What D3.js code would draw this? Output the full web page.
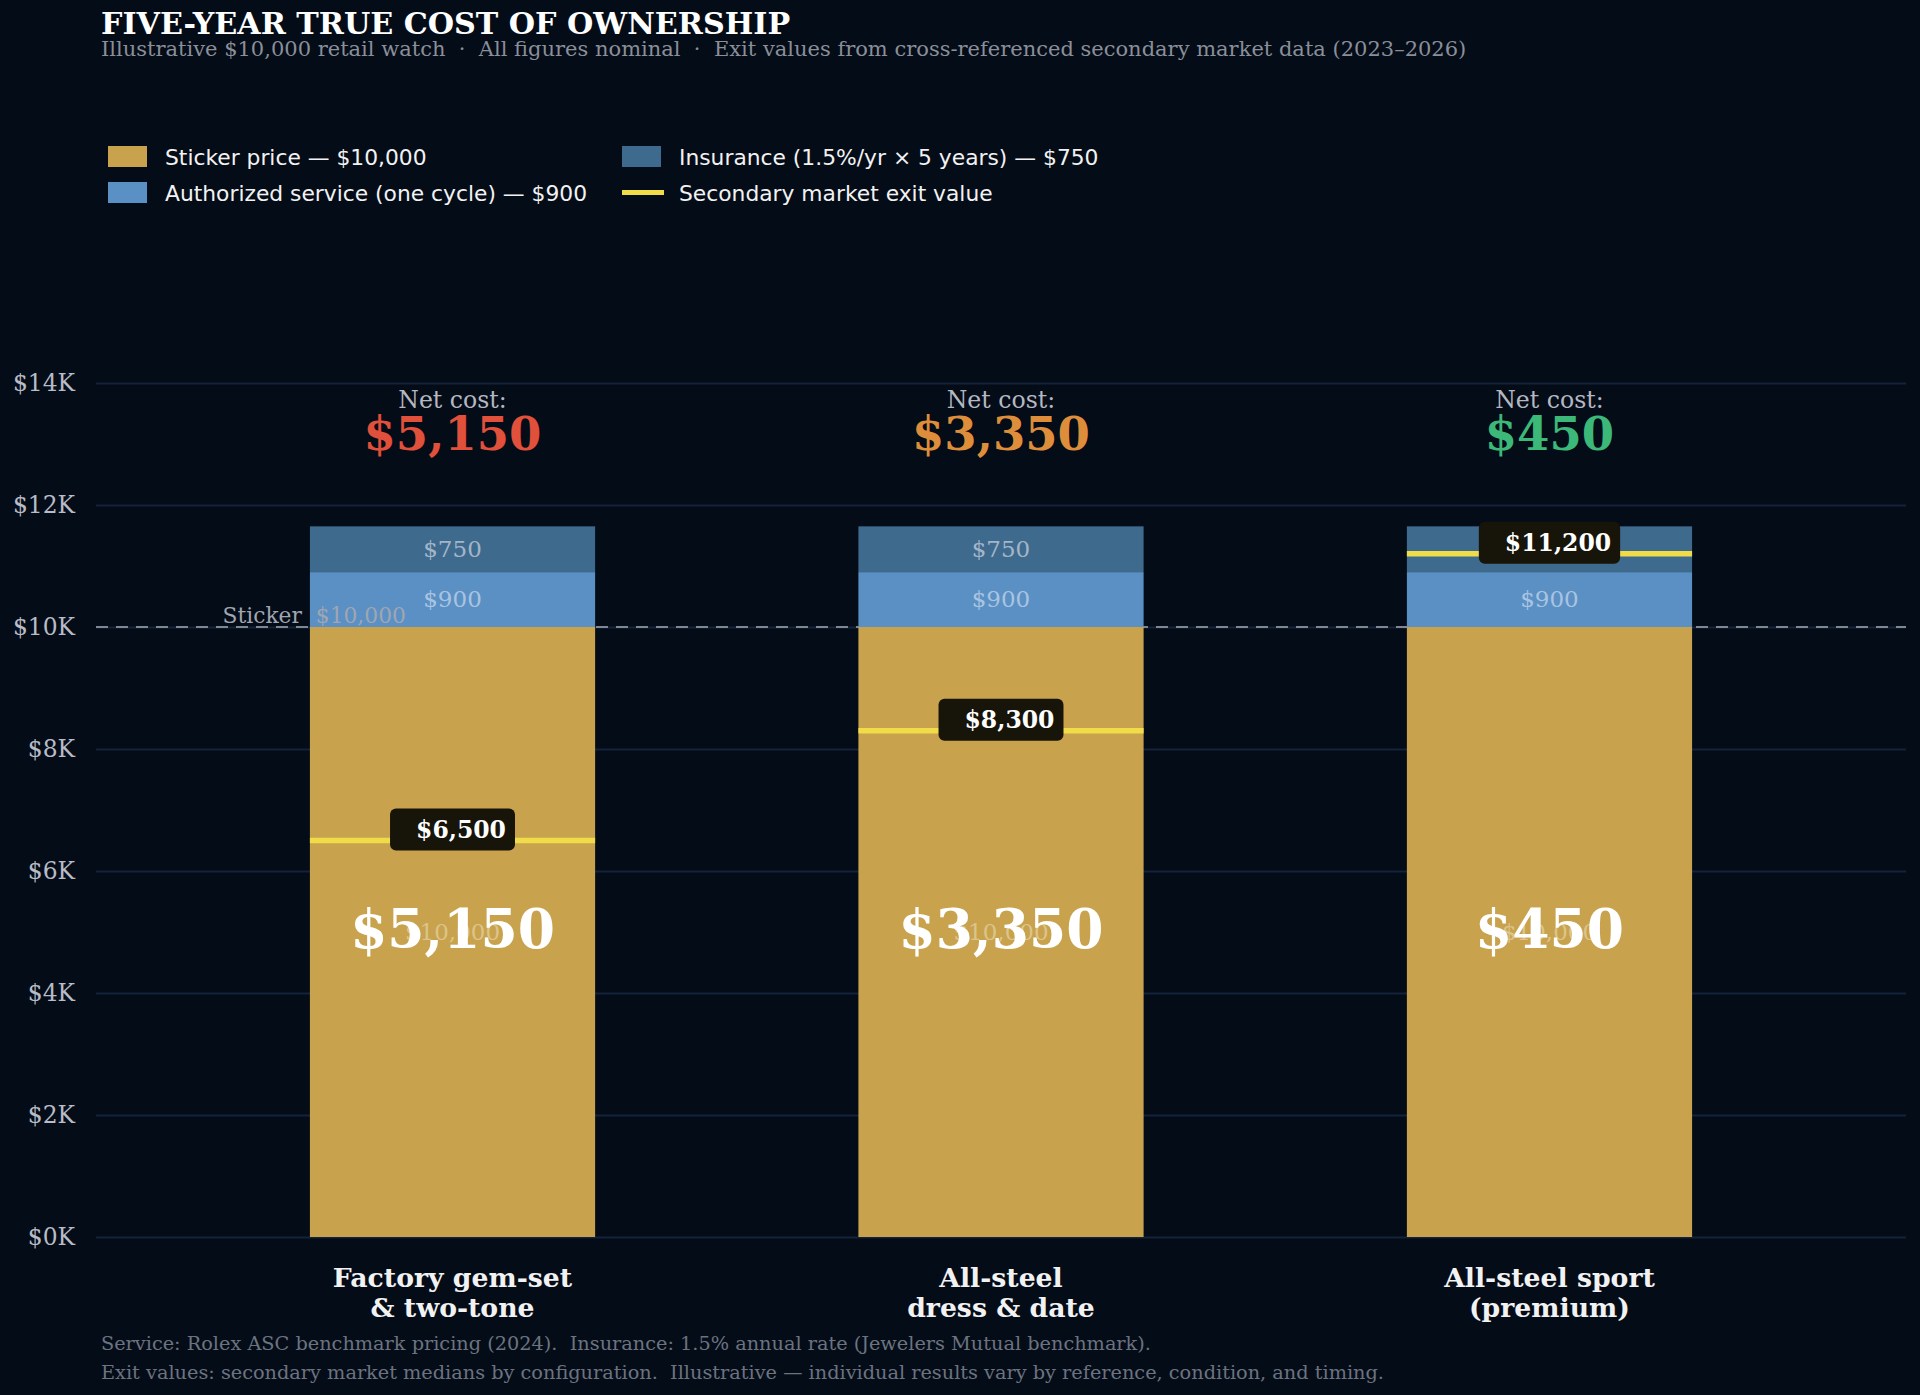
<!DOCTYPE html>
<html>
<head>
<meta charset="utf-8">
<script src="https://cdn.jsdelivr.net/npm/d3@7"></script>
<style>
  html, body { margin: 0; padding: 0; background: #040c18; }
  svg text { font-family: "DejaVu Serif", serif; }
  .sans { font-family: "DejaVu Sans", sans-serif; }
</style>
</head>
<body>
<div id="chart"></div>
<script>
// ===============================
// DATA
// ===============================
const categories = [["Factory gem-set", "& two-tone"], ["All-steel", "dress & date"], ["All-steel sport", "(premium)"]];
const sticker = [10000, 10000, 10000];
const service = [900, 900, 900];
const insurance = [750, 750, 750];
const exitValues = [6500, 8300, 11200];
const netCosts = [5150, 3350, 450];
const netColors = ["#e0503a", "#de8d3a", "#3cb878"];
const yTicks = [0, 2000, 4000, 6000, 8000, 10000, 12000, 14000];

const legendItems = [
    { label: "Sticker price \u2014 $10,000", color: "#c8a24c", type: "box" },
    { label: "Authorized service (one cycle) \u2014 $900", color: "#5b90c5", type: "box" },
    { label: "Insurance (1.5%/yr \u00d7 5 years) \u2014 $750", color: "#3e6a8e", type: "box" },
    { label: "Secondary market exit value", color: "#f0dc48", type: "line" }
];

const W = 1920, H = 1395;
const plot = { left: 96, right: 1906, top: 383, bottom: 1237 };

const svg = d3.select("#chart").append("svg")
    .attr("width", W).attr("height", H);

svg.append("rect").attr("width", W).attr("height", H).attr("fill", "#040c18");

const x = d3.scaleBand()
    .domain(d3.range(categories.length))
    .range([plot.left, plot.right])
    .paddingInner(0.48)
    .paddingOuter(0.39);

const y = d3.scaleLinear().domain([0, 14000]).range([plot.bottom, plot.top]);

const fmt = d3.format("$,");

// title + subtitle
svg.append("text").attr("x", 101).attr("y", 34)
    .attr("fill", "#ffffff").attr("font-size", 30.2).attr("font-weight", "bold")
    .text("FIVE-YEAR TRUE COST OF OWNERSHIP");
svg.append("text").attr("x", 101).attr("y", 56)
    .attr("fill", "#8a8f99").attr("font-size", 21)
    .text("Illustrative $10,000 retail watch  \u00b7  All figures nominal  \u00b7  Exit values from cross-referenced secondary market data (2023\u20132026)")
    .style("white-space", "pre");

// legend
const legend = svg.append("g");
legendItems.forEach((d, i) => {
    const col = Math.floor(i / 2), row = i % 2;
    const gx = 108 + col * 514, gy = 146 + row * 36;
    if (d.type === "box") {
        legend.append("rect").attr("x", gx).attr("y", gy).attr("width", 39).attr("height", 21).attr("fill", d.color);
    } else {
        legend.append("rect").attr("x", gx).attr("y", gy + 8).attr("width", 42).attr("height", 5).attr("fill", d.color);
    }
    legend.append("text").attr("class", "sans")
        .attr("x", gx + 57).attr("y", gy + 19)
        .attr("fill", "#f2f2f2").attr("font-size", 21.8)
        .text(d.label);
});

// gridlines + y labels
const yAxis = d3.axisLeft(y).tickValues(yTicks)
    .tickSize(-(plot.right - plot.left))
    .tickPadding(21)
    .tickFormat(d => "$" + d / 1000 + "K");

const gy = svg.append("g").attr("transform", `translate(${plot.left},0)`).call(yAxis);
gy.select(".domain").remove();
gy.selectAll(".tick line").attr("stroke", "#12233a").attr("stroke-width", 2);
gy.selectAll(".tick text").attr("fill", "#b8bcc6").attr("font-size", 23.4)
    .attr("font-family", "DejaVu Serif, serif");

// sticker reference line
svg.append("line")
    .attr("x1", plot.left).attr("x2", plot.right)
    .attr("y1", y(10000)).attr("y2", y(10000))
    .attr("stroke", "#7f8794").attr("stroke-width", 1.8)
    .attr("stroke-dasharray", "12,8");

// stacked bars
const segs = [];
categories.forEach((c, i) => {
    segs.push({ i, y0: 0, y1: sticker[i], v: sticker[i], color: "#c8a24c", text: "#dcc48a" });
    segs.push({ i, y0: sticker[i], y1: sticker[i] + service[i], v: service[i], color: "#5b90c5", text: "#a9c4e0" });
    segs.push({ i, y0: sticker[i] + service[i], y1: sticker[i] + service[i] + insurance[i], v: insurance[i], color: "#3e6a8e", text: "#a3b6c8" });
});

svg.append("g").selectAll("rect").data(segs).join("rect")
    .attr("x", d => x(d.i))
    .attr("width", x.bandwidth())
    .attr("y", d => y(d.y1))
    .attr("height", d => y(d.y0) - y(d.y1))
    .attr("fill", d => d.color);

svg.append("g").selectAll("text").data(segs).join("text")
    .attr("x", d => x(d.i) + x.bandwidth() / 2)
    .attr("y", d => (y(d.y0) + y(d.y1)) / 2)
    .attr("dy", "0.34em")
    .attr("text-anchor", "middle")
    .attr("fill", d => d.text)
    .attr("font-size", 23)
    .text(d => fmt(d.v));

// sticker label
svg.append("text")
    .attr("x", x(0) + 96).attr("y", y(10000) - 4)
    .attr("text-anchor", "end")
    .attr("fill", "#a0a6b0").attr("font-size", 21.8)
    .style("white-space", "pre")
    .text("Sticker  $10,000");

// exit value lines + labels
const cx = i => x(i) + x.bandwidth() / 2;

svg.append("g").selectAll("line").data(exitValues).join("line")
    .attr("x1", (d, i) => x(i)).attr("x2", (d, i) => x(i) + x.bandwidth())
    .attr("y1", d => y(d)).attr("y2", d => y(d))
    .attr("stroke", "#f0dc48").attr("stroke-width", 5.5);

exitValues.forEach((v, i) => {
    const g = svg.append("g");
    const t = g.append("text")
        .attr("y", y(v) - 11)
        .attr("dy", "0.35em")
        .attr("text-anchor", "end")
        .attr("fill", "#ffffff").attr("font-size", 23.5).attr("font-weight", "bold")
        .text(fmt(v));
    const tw = t.node().getComputedTextLength();
    const bw = tw + 35;
    t.attr("x", cx(i) + bw / 2 - 9);
    g.insert("rect", "text")
        .attr("x", cx(i) - bw / 2).attr("y", y(v) - 11 - 21)
        .attr("width", bw).attr("height", 42)
        .attr("rx", 6)
        .attr("fill", "#17140a");
});

// net cost inside bars
svg.append("g").selectAll("text").data(netCosts).join("text")
    .attr("x", (d, i) => cx(i))
    .attr("y", y(5000))
    .attr("dy", "0.3em")
    .attr("text-anchor", "middle")
    .attr("fill", "#ffffff").attr("font-size", 53.5).attr("font-weight", "bold")
    .text(d => fmt(d));

// net cost headers
svg.append("g").selectAll("text").data(netCosts).join("text")
    .attr("x", (d, i) => cx(i)).attr("y", 408)
    .attr("text-anchor", "middle")
    .attr("fill", "#b4b8c0").attr("font-size", 23.6)
    .text("Net cost:");

svg.append("g").selectAll("text").data(netCosts).join("text")
    .attr("x", (d, i) => cx(i)).attr("y", 450)
    .attr("text-anchor", "middle")
    .attr("fill", (d, i) => netColors[i]).attr("font-size", 46.5).attr("font-weight", "bold")
    .text(d => fmt(d));

// category labels
categories.forEach((lines, i) => {
    const t = svg.append("text")
        .attr("x", cx(i)).attr("y", 1287)
        .attr("text-anchor", "middle")
        .attr("fill", "#f2f2f2").attr("font-size", 26.7).attr("font-weight", "bold");
    lines.forEach((l, k) => {
        t.append("tspan").attr("x", cx(i)).attr("dy", k === 0 ? 0 : 30).text(l);
    });
});

// footer
const footer = [
    "Service: Rolex ASC benchmark pricing (2024).  Insurance: 1.5% annual rate (Jewelers Mutual benchmark).",
    "Exit values: secondary market medians by configuration.  Illustrative \u2014 individual results vary by reference, condition, and timing."
];
svg.append("g").selectAll("text").data(footer).join("text")
    .attr("x", 101).attr("y", (d, i) => 1350 + i * 29)
    .attr("fill", "#6c7380").attr("font-size", 19.3)
    .style("white-space", "pre")
    .text(d => d);
</script>
</body>
</html>
